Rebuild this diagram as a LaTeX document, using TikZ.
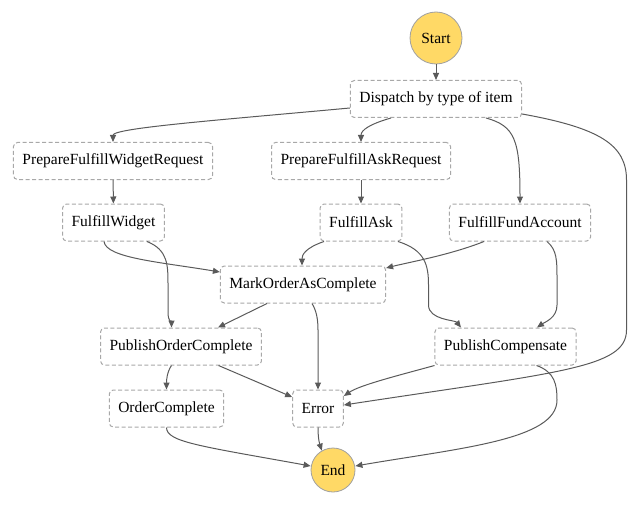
\documentclass[tikz,border=0pt]{standalone}
\usepackage{fontspec}
\setmainfont{Liberation Serif}
\usetikzlibrary{arrows.meta,calc}
\definecolor{termfill}{HTML}{FFD966}
\definecolor{termdraw}{HTML}{A0A0A0}
\definecolor{boxdraw}{HTML}{A8A8A8}
\definecolor{edgecol}{HTML}{5A5A5A}
\begin{document}
\begin{tikzpicture}[x=1pt,y=-1pt,
  every node/.style={font=\fontsize{15.5}{18}\selectfont, text=black},
  term/.style={circle, fill=termfill, draw=termdraw, line width=0.8pt, inner sep=0pt},
  stepbox/.style={rectangle, rounded corners=4pt, draw=boxdraw, line width=1pt,
    dash pattern=on 4pt off 2.5pt, fill=white, minimum height=37pt, inner xsep=9pt},
  edge/.style={draw=edgecol, line width=1pt, -{Triangle[length=7pt,width=6pt]}}]
\useasboundingbox (0,0) rectangle (639,505);

\node[term, minimum size=52pt] (start) at (436,38) {Start};
\node[stepbox] (dispatch) at (436,99) {Dispatch by type of item};
\node[stepbox] (pfwr) at (113,161) {PrepareFulfillWidgetRequest};
\node[stepbox] (pfar) at (361,161) {PrepareFulfillAskRequest};
\node[stepbox] (fw) at (113.5,222.5) {FulfillWidget};
\node[stepbox] (fa) at (361,222.5) {FulfillAsk};
\node[stepbox] (ffa) at (520,222.5) {FulfillFundAccount};
\node[stepbox] (moac) at (303,284.5) {MarkOrderAsComplete};
\node[stepbox] (poc) at (181,346.5) {PublishOrderComplete};
\node[stepbox] (pc) at (505.5,346.5) {PublishCompensate};
\node[stepbox] (oc) at (166.5,408.5) {OrderComplete};
\node[stepbox] (err) at (318,408.5) {Error};
\node[term, minimum size=44pt] (end) at (333,470) {End};

\draw[edge] (start) -- (dispatch);
\draw[edge] ([yshift=-9pt]dispatch.west) .. controls (220,120) and (113,128) .. (pfwr.north);
\draw[edge] ([xshift=-45pt]dispatch.south) .. controls (370,124) and (361,130) .. (pfar.north);
\draw[edge] ([xshift=50pt]dispatch.south) .. controls (515,126) and (520,140) .. (ffa.north);
\draw[edge] ([yshift=-15pt]dispatch.east) .. controls (600,128) and (626.5,145) .. (626.5,180)
  -- (626.5,330) .. controls (626.5,368) and (560,372) .. ([yshift=3.5pt]err.east);
\draw[edge] (pfwr) -- (fw);
\draw[edge] (pfar) -- (fa);
\draw[edge] ([xshift=-9.5pt]fw.south) .. controls (106,258) and (160,262) .. ([yshift=12.5pt]moac.west);
\draw[edge] ([xshift=33.5pt]fw.south) .. controls (168,250) and (168,265) .. (168,285)
  -- (168,312) .. controls (168,322) and (171.5,322) .. ([xshift=-9.5pt]poc.north);
\draw[edge] ([xshift=-37pt]fa.south) .. controls (305,248) and (302,255) .. ([xshift=-1pt]moac.north);
\draw[edge] ([xshift=37pt]fa.south) .. controls (425,250) and (428.5,265) .. (428.5,285)
  -- (428.5,305) .. controls (428.5,320) and (455,320) .. ([xshift=-44.5pt]pc.north);
\draw[edge] ([xshift=-36pt]ffa.south) .. controls (450,255) and (410,262) .. ([yshift=16.5pt]moac.east);
\draw[edge] ([xshift=27pt]ffa.south) .. controls (557,250) and (557,260) .. (557,280)
  -- (557,305) .. controls (557,318) and (545,322) .. ([xshift=31.5pt]pc.north);
\draw[edge] ([xshift=-36pt]moac.south) -- ([xshift=37pt]poc.north);
\draw[edge] ([xshift=9pt]moac.south) .. controls (316,310) and (318,318) .. (318,330) -- (err.north);
\draw[edge] ([xshift=-9.5pt]poc.south) .. controls (167,372) and (166.5,380) .. (oc.north);
\draw[edge] ([xshift=37.5pt]poc.south) -- ([yshift=11.5pt]err.west);
\draw[edge] ([xshift=-71pt]pc.south) .. controls (400,375) and (360,385) .. ([yshift=12.5pt]err.east);
\draw[edge] (oc.south) .. controls (166.5,442) and (200,446) .. ([yshift=4pt]end.west);
\draw[edge] (err.south) .. controls (318,440) and (320,445) .. (end.120);
\draw[edge] ([xshift=31pt]pc.south) .. controls (555,372) and (557,385) .. (557,400)
  .. controls (557,440) and (460,448) .. ([yshift=4pt]end.east);
\end{tikzpicture}
\end{document}
